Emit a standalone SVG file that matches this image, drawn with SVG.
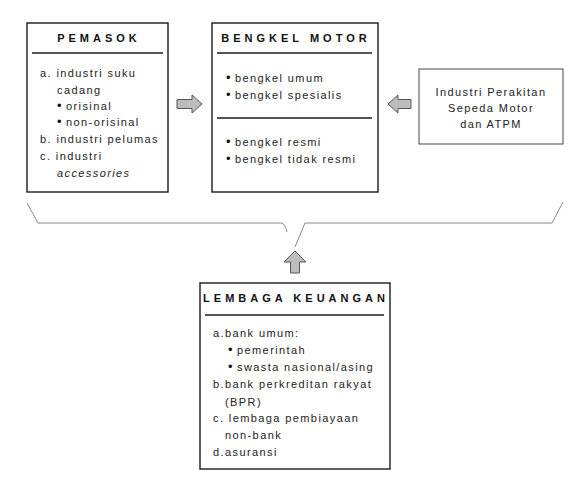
<svg xmlns="http://www.w3.org/2000/svg" width="579" height="480" viewBox="0 0 579 480">
<style>
.box{fill:#fff;stroke:#1a1a1a;stroke-width:1.4}
.rule{stroke:#1a1a1a;stroke-width:1.4}
.hd{font-family:"Liberation Sans",Arial,sans-serif;font-weight:bold;font-size:11px;letter-spacing:4px;fill:#111;text-anchor:middle}
.tx{font-family:"Liberation Sans",Arial,sans-serif;font-size:11px;letter-spacing:1.4px;fill:#222}
.b{font-size:13px;fill:#111}
.arr{fill:#bdbdbd;stroke:#555;stroke-width:1}
.br{fill:none;stroke:#8a8a8a;stroke-width:1}
</style>
<rect width="579" height="480" fill="#fff"/>
<g id="pemasok">
<rect class="box" x="27" y="23" width="141" height="169"/>
<line class="rule" x1="32" y1="53" x2="163" y2="53"/>
<text class="hd" x="99" y="42">PEMASOK</text>
<text class="tx" x="40" y="77">a. industri suku</text>
<text class="tx" x="57" y="94">cadang</text>
<text class="tx" x="57" y="110"><tspan class="b" letter-spacing="0">•</tspan> orisinal</text>
<text class="tx" x="57" y="126"><tspan class="b" letter-spacing="0">•</tspan> non-orisinal</text>
<text class="tx" x="40" y="143">b. industri pelumas</text>
<text class="tx" x="40" y="160">c. industri</text>
<text class="tx" x="57" y="177" font-style="italic">accessories</text>
</g>
<g id="bengkel">
<rect class="box" x="212" y="23" width="166" height="169"/>
<line class="rule" x1="217" y1="53" x2="372" y2="53"/>
<line class="rule" x1="217" y1="118" x2="372" y2="118"/>
<text class="hd" x="296" y="42">BENGKEL MOTOR</text>
<text class="tx" x="226" y="82"><tspan class="b" letter-spacing="0">•</tspan>  bengkel umum</text>
<text class="tx" x="226" y="99"><tspan class="b" letter-spacing="0">•</tspan>  bengkel spesialis</text>
<text class="tx" x="226" y="146"><tspan class="b" letter-spacing="0">•</tspan>  bengkel resmi</text>
<text class="tx" x="226" y="163"><tspan class="b" letter-spacing="0">•</tspan>  bengkel tidak resmi</text>
</g>
<g id="industri">
<rect x="419" y="69" width="144" height="75" fill="#fff" stroke="#444" stroke-width="1"/>
<text class="tx" x="491" y="96" text-anchor="middle" letter-spacing="1.2">Industri Perakitan</text>
<text class="tx" x="491" y="112" text-anchor="middle" letter-spacing="1.2">Sepeda Motor</text>
<text class="tx" x="491" y="128" text-anchor="middle" letter-spacing="1.2">dan ATPM</text>
</g>
<g id="lembaga">
<rect class="box" x="200" y="283" width="190" height="186"/>
<line class="rule" x1="205" y1="315" x2="384" y2="315"/>
<text class="hd" x="296" y="302" letter-spacing="3.5">LEMBAGA KEUANGAN</text>
<text class="tx" x="213" y="337" letter-spacing="1.8">a.bank umum:</text>
<text class="tx" x="228" y="354" letter-spacing="1.8"><tspan class="b" letter-spacing="0">•</tspan> pemerintah</text>
<text class="tx" x="228" y="371" letter-spacing="1.5"><tspan class="b" letter-spacing="0">•</tspan> swasta nasional/asing</text>
<text class="tx" x="213" y="388" letter-spacing="1.9">b.bank perkreditan rakyat</text>
<text class="tx" x="225" y="406" letter-spacing="1.8">(BPR)</text>
<text class="tx" x="213" y="422" letter-spacing="1.8">c. lembaga pembiayaan</text>
<text class="tx" x="225" y="439" letter-spacing="1.8">non-bank</text>
<text class="tx" x="213" y="456" letter-spacing="1.8">d.asuransi</text>
</g>
<g id="connectors">
<path class="arr" d="M177,99.5 H192 V95 L202,104 L192,113 V108.5 H177 Z"/>
<path class="arr" d="M411,99.5 H398 V95 L388,104 L398,113 V108.5 H411 Z"/>
<path class="arr" d="M290.5,273 V262 H284 L295,251 L306,262 H299.5 V273 Z"/>
<path class="br" d="M27,203 L38,223 H282 Q285,224 287,232"/>
<path class="br" d="M295,247 L305,223 H552 L563,202"/>
</g>
</svg>
